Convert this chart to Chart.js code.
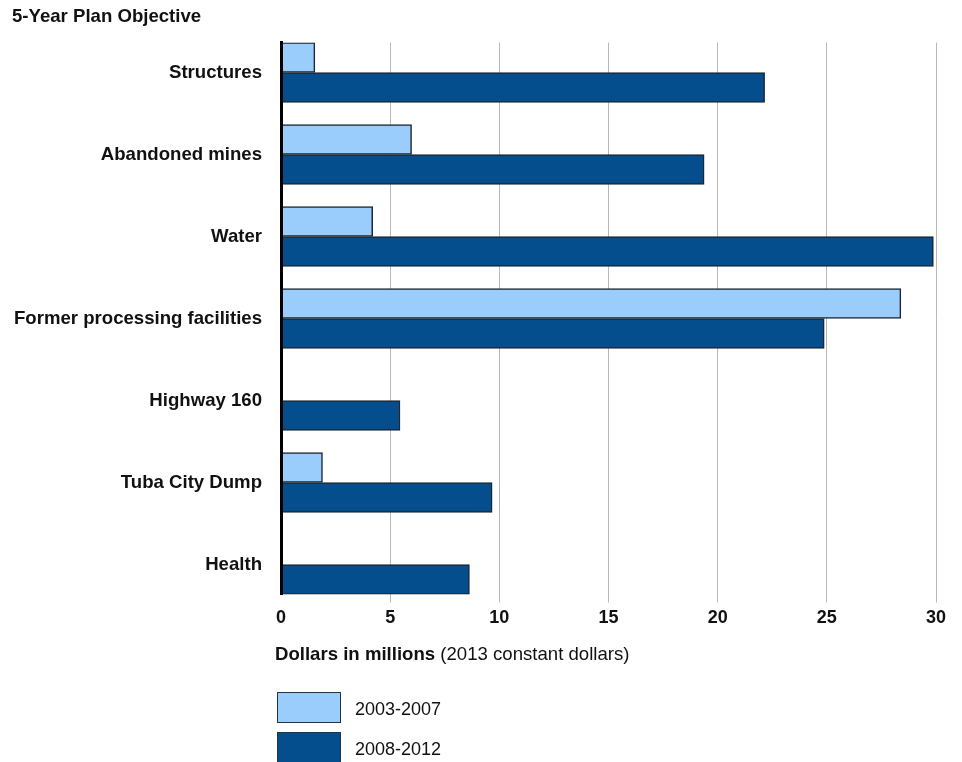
<!DOCTYPE html>
<html>
<head>
<meta charset="utf-8">
<script src="https://cdn.jsdelivr.net/npm/chart.js@4.4.1/dist/chart.umd.min.js"></script>
<style>
  html, body { margin: 0; padding: 0; background: #fff; }
  #wrap { position: relative; width: 962px; height: 762px; overflow: hidden; }
  #chartBox { position: absolute; left: 0; top: 0; width: 962px; height: 762px; }
  .txt { position: absolute; font-family: 'Liberation Sans', Arial, sans-serif; font-size: 18px; line-height: 18px; color: #111; white-space: nowrap; }
  .big { font-size: 18.6px; line-height: 18.6px; }
  .b { font-weight: bold; }
  .swatch { position: absolute; width: 62px; height: 29px; border: 1.5px solid #2a3440; }
</style>
</head>
<body>
<div id="wrap">
  <div id="chartBox"><canvas id="c"></canvas></div>
  <div class="txt big b" id="mainTitle" style="left:12px; top:7px;">5-Year Plan Objective</div>
  <div class="txt big" id="axisTitle" style="left:275px; top:645px;"><span class="b">Dollars in millions</span> (2013 constant dollars)</div>
  <div id="legend"></div>
</div>
<script>
const categories = ['Structures', 'Abandoned mines', 'Water', 'Former processing facilities', 'Highway 160', 'Tuba City Dump', 'Health'];
const seriesNames = ['2003-2007', '2008-2012'];
const values2003_2007 = [1.55, 5.98, 4.2, 28.39, 0, 1.9, 0];
const values2008_2012 = [22.15, 19.38, 29.88, 24.88, 5.45, 9.67, 8.63];
const xTicks = [0, 5, 10, 15, 20, 25, 30];

const colors = ['#9accfc', '#044e8e'];
const borderCol = '#1b2733';

const toPoints = arr => arr.map((v, i) => ({ x: v, y: i }));

const datasets = [
  { label: seriesNames[0], data: toPoints(values2003_2007), backgroundColor: colors[0] },
  { label: seriesNames[1], data: toPoints(values2008_2012), backgroundColor: colors[1] }
].map(d => Object.assign(d, { borderColor: borderCol, borderWidth: 1.5, barThickness: 30 }));

const halfPad = 30 / 82;
const labelFont = { family: "'Liberation Sans', Arial, sans-serif", size: 18.6, weight: 'bold' };

new Chart(document.getElementById('c'), {
  type: 'bar',
  data: { datasets },
  options: {
    indexAxis: 'y',
    responsive: true,
    maintainAspectRatio: false,
    animation: false,
    layout: { padding: { top: 42.5, right: 26, left: 0, bottom: 0 } },
    plugins: { legend: { display: false }, tooltip: { enabled: false }, title: { display: false } },
    scales: {
      x: {
        type: 'linear',
        offset: false,
        min: xTicks[0],
        max: xTicks[xTicks.length - 1],
        afterBuildTicks: scale => { scale.ticks = xTicks.map(v => ({ value: v })); },
        ticks: {
          stepSize: 5,
          padding: 5,
          color: '#111',
          font: { family: "'Liberation Sans', Arial, sans-serif", size: 18, weight: 'bold' }
        },
        grid: {
          offset: false,
          color: ctx => (ctx.tick && ctx.tick.value === 0) ? 'rgba(0,0,0,0)' : '#b8b8b8',
          lineWidth: 1,
          drawTicks: true,
          tickLength: 8
        },
        border: { display: false },
        afterFit: scale => { scale.height = 762 - 594.5; }
      },
      y: {
        type: 'linear',
        offset: false,
        reverse: true,
        min: -halfPad,
        max: categories.length - 1 + halfPad,
        ticks: {
          stepSize: 1,
          autoSkip: false,
          padding: 19,
          color: '#111',
          font: labelFont,
          callback: v => Number.isInteger(v) && categories[v] !== undefined ? categories[v] : ''
        },
        grid: { display: false, drawTicks: false, offset: false },
        border: { display: true, color: '#000', width: 3, z: 1 },
        afterFit: scale => { scale.width = 281; }
      }
    }
  }
});

// HTML legend built from the series
const legend = document.getElementById('legend');
const legendTops = [692, 732];
seriesNames.forEach((name, i) => {
  const sw = document.createElement('div');
  sw.className = 'swatch';
  sw.style.left = '277px';
  sw.style.top = legendTops[i] + 'px';
  sw.style.background = colors[i];
  legend.appendChild(sw);
  const t = document.createElement('div');
  t.className = 'txt';
  t.style.left = '355px';
  t.style.top = (legendTops[i] + 8) + 'px';
  t.textContent = name;
  legend.appendChild(t);
});
</script>
</body>
</html>
